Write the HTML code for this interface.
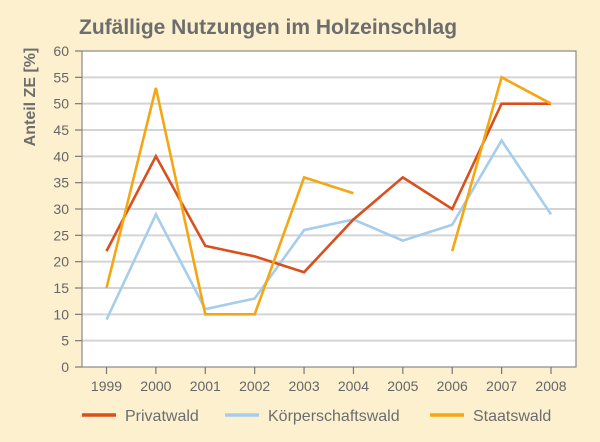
<!DOCTYPE html>
<html><head><meta charset="utf-8"><style>
body{margin:0;background:#fdf0cf;}
svg{display:block;font-family:"Liberation Sans",sans-serif;}
</style></head><body>
<svg id="c" width="600" height="442">
<rect width="600" height="442" fill="#fdf0cf"/>
<text x="79" y="34" font-size="21" font-weight="bold" fill="#6d6d6d">Zufällige Nutzungen im Holzeinschlag</text>
<text transform="translate(35,97) rotate(-90)" text-anchor="middle" font-size="16" font-weight="bold" fill="#6d6d6d">Anteil ZE [%]</text>
<g id="plot"></g>
</svg>
<script>
const years=["1999","2000","2001","2002","2003","2004","2005","2006","2007","2008"];
const privat=[22,40,23,21,18,28,36,30,50,50];
const koerper=[9,29,11,13,26,28,24,27,43,29];
const staat=[15,53,10,10,36,33,null,22,55,50];
const yTicks=[0,5,10,15,20,25,30,35,40,45,50,55,60];
const NS="http://www.w3.org/2000/svg";
const g=document.getElementById('plot');
const L=82,R=576,T=51,B=367;
const x=i=>106.5+i*(551-106.5)/9;
const y=v=>B-(v/60)*(B-T);
function mk(t,a){const e=document.createElementNS(NS,t);for(const k in a)e.setAttribute(k,a[k]);g.appendChild(e);return e;}
let bg=mk('rect',{x:L,y:T,width:R-L,height:B-T,fill:'#fff'});


yTicks.forEach(v=>{
 if(v>0&&v<60){let gl=mk('line',{x1:L,x2:R,y1:y(v),y2:y(v),stroke:'#d4d4d4','stroke-width':2});
 
 }
 let tk=mk('line',{x1:75,x2:L,y1:y(v),y2:y(v),stroke:'#777','stroke-width':1.2});
 
 
 let t=mk('text',{x:69,y:y(v)+5,'text-anchor':'end','font-size':14,fill:'#666'});t.textContent=v;
 
 
});
let fr=mk('rect',{x:L,y:T,width:R-L,height:B-T,fill:'none',stroke:'#888','stroke-width':1.2});


years.forEach((yr,i)=>{
 let tk=mk('line',{x1:x(i),x2:x(i),y1:B,y2:B+7,stroke:'#777','stroke-width':1.2});
 
 
 let t=mk('text',{x:x(i),y:B+24,'text-anchor':'middle','font-size':14,fill:'#666'});t.textContent=yr;
 
 
});
function series(vals,color,name){
 let segs=[],cur=[];
 vals.forEach((v,i)=>{if(v==null){if(cur.length)segs.push(cur);cur=[];}else cur.push(x(i).toFixed(1)+','+y(v).toFixed(1));});
 if(cur.length)segs.push(cur);
 segs.forEach(s=>{let p=mk('polyline',{points:s.join(' '),fill:'none',stroke:color,'stroke-width':2.6,'stroke-linejoin':'miter'});
 
 });
}
series(koerper,'#a6cdea','koerperschaftswald');
series(privat,'#d9501e','privatwald');
series(staat,'#f5a613','staatswald');
const leg=[["Privatwald","#d9501e",82],["Körperschaftswald","#a6cdea",225],["Staatswald","#f5a613",430]];
leg.forEach(([n,c,lx])=>{
 let l=mk('line',{x1:lx,x2:lx+34,y1:415,y2:415,stroke:c,'stroke-width':3.5});
 
 
 let t=mk('text',{x:lx+43,y:421,'font-size':16,fill:'#6d6d6d'});t.textContent=n;
 
 
});
</script>
</body></html>
